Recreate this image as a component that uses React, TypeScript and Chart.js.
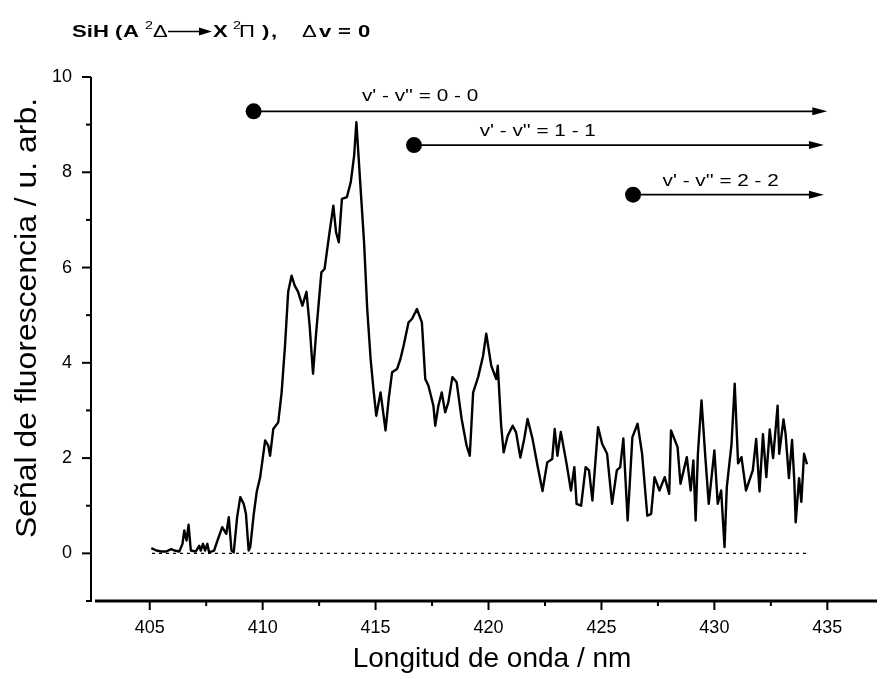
import React, { useEffect, useRef } from "react";
import { Chart, registerables } from "chart.js";

Chart.register(...registerables);

// ---- data ----
const wavelengthNm = [
  405.07, 405.29, 405.51, 405.73, 405.95, 406.09, 406.31, 406.45, 406.53, 406.63,
  406.72, 406.82, 407.04, 407.19, 407.26, 407.36, 407.45, 407.55, 407.63, 407.85,
  408.0, 408.21, 408.39, 408.5, 408.62, 408.72, 408.87, 409.01, 409.16, 409.26,
  409.38, 409.45, 409.6, 409.74, 409.89, 410.11, 410.25, 410.33, 410.47, 410.69,
  410.84, 410.99, 411.13, 411.28, 411.42, 411.57, 411.76, 411.94, 412.08, 412.23,
  412.37, 412.6, 412.74, 412.96, 413.13, 413.25, 413.37, 413.51, 413.73, 413.9,
  414.05, 414.15, 414.3, 414.49, 414.63, 414.78, 414.92, 415.03, 415.22, 415.44,
  415.58, 415.73, 415.95, 416.1, 416.24, 416.46, 416.61, 416.83, 417.05, 417.2,
  417.34, 417.56, 417.64, 417.78, 417.93, 418.08, 418.22, 418.4, 418.59, 418.81,
  419.03, 419.17, 419.32, 419.54, 419.76, 419.9, 420.12, 420.34, 420.41, 420.56,
  420.67, 420.85, 421.07, 421.22, 421.41, 421.58, 421.73, 421.95, 422.17, 422.39,
  422.6, 422.82, 422.93, 423.05, 423.2, 423.45, 423.65, 423.8, 423.9, 424.1,
  424.3, 424.45, 424.6, 424.85, 425.03, 425.25, 425.47, 425.68, 425.83, 425.97,
  426.16, 426.37, 426.6, 426.8, 427.03, 427.2, 427.35, 427.57, 427.8, 428.0,
  428.08, 428.37, 428.5, 428.78, 428.95, 429.07, 429.17, 429.27, 429.43, 429.6,
  429.75, 430.0, 430.15, 430.3, 430.45, 430.55, 430.76, 430.9, 431.05, 431.2,
  431.4, 431.7, 431.85, 432.0, 432.15, 432.3, 432.45, 432.6, 432.8, 432.87,
  433.06, 433.15, 433.3, 433.44, 433.54, 433.6, 433.75, 433.85, 433.97, 434.1,
];
const fluorescence = [
  0.11, 0.06, 0.04, 0.04, 0.09, 0.06, 0.04, 0.2, 0.48, 0.27,
  0.6, 0.06, 0.04, 0.16, 0.06, 0.2, 0.06, 0.2, 0.02, 0.06,
  0.27, 0.55, 0.41, 0.76, 0.06, 0.02, 0.76, 1.18, 1.04, 0.83,
  0.06, 0.13, 0.8, 1.3, 1.6, 2.37, 2.26, 2.05, 2.61, 2.75,
  3.38, 4.36, 5.49, 5.83, 5.62, 5.49, 5.2, 5.49, 4.78, 3.77,
  4.64, 5.9, 5.97, 6.74, 7.3, 6.74, 6.53, 7.44, 7.48, 7.79,
  8.35, 9.05, 7.93, 6.53, 5.13, 4.08, 3.38, 2.89, 3.38, 2.58,
  3.24, 3.8, 3.87, 4.08, 4.36, 4.85, 4.92, 5.13, 4.85, 3.66,
  3.52, 3.1, 2.68, 3.1, 3.38, 2.96, 3.17, 3.7, 3.59, 2.82,
  2.26, 2.05, 3.38, 3.7, 4.15, 4.61, 3.94, 3.66, 3.94, 2.68,
  2.12, 2.47, 2.68, 2.54, 2.01, 2.4, 2.82, 2.4, 1.84, 1.31,
  1.91, 1.98, 2.61, 2.05, 2.55, 1.9, 1.32, 1.81, 1.04, 1.0,
  1.81, 1.74, 1.11, 2.65, 2.3, 2.09, 1.04, 1.74, 1.81, 2.41,
  0.69, 2.44, 2.72, 2.09, 0.79, 0.83, 1.6, 1.32, 1.6, 1.25,
  2.58, 2.23, 1.46, 2.02, 1.32, 1.95, 0.69, 2.09, 3.21, 2.02,
  1.04, 2.16, 1.04, 1.32, 0.13, 1.39, 2.3, 3.56, 1.89, 2.02,
  1.32, 1.74, 2.4, 1.3, 2.5, 1.6, 2.6, 2.0, 3.1, 2.09,
  2.81, 2.52, 1.58, 2.38, 1.51, 0.65, 1.58, 1.08, 2.09, 1.87,
];
const baselineNm = [405.1, 434.1];
const baselineLevel = [0, 0];

const bandLabels = ["v' - v'' = 0 - 0", "v' - v'' = 1 - 1", "v' - v'' = 2 - 2"];
const bandOriginNm = [409.6, 416.7, 426.4];
const bandEndNm = [435.0, 434.85, 434.85];
const bandLevel = [9.28, 8.57, 7.53];
const bandLabelNm = [416.97, 422.18, 430.28];
const bandLabelLevel = [9.62, 8.89, 7.84];

const xMajorTicks = [405, 410, 415, 420, 425, 430, 435];
const xMinorTicks = [407.5, 412.5, 417.5, 422.5, 427.5, 432.5];
const yMajorTicks = [0, 2, 4, 6, 8, 10];
const yMinorTicks = [-1, 1, 3, 5, 7, 9];
const xRange = [402.4, 437.2];
const yRange = [-1, 10];

const xTitle = "Longitud de onda / nm";
const yTitle = "Señal de fluorescencia / u. arb.";

// ---- drawing helpers ----
const FAMILY = "Arial, 'Liberation Sans', Helvetica, sans-serif";

function drawText(
  ctx: CanvasRenderingContext2D,
  text: string,
  x: number,
  y: number,
  font: string,
  sx: number,
  align: CanvasTextAlign = "left"
) {
  ctx.save();
  ctx.font = font;
  ctx.textAlign = align;
  ctx.textBaseline = "alphabetic";
  ctx.translate(x, y);
  ctx.scale(sx, 1);
  ctx.fillText(text, 0, 0);
  ctx.restore();
}

const decorPlugin = {
  id: "decor",
  afterDatasetsDraw(chart: any) {
    const { ctx, scales } = chart;
    const xs = scales.x;
    const ys = scales.y;
    ctx.save();
    ctx.fillStyle = "#000";
    // arrow heads
    for (let i = 0; i < bandLevel.length; i++) {
      const px = xs.getPixelForValue(bandEndNm[i]);
      const py = ys.getPixelForValue(bandLevel[i]);
      ctx.beginPath();
      ctx.moveTo(px, py);
      ctx.lineTo(px - 15, py - 4);
      ctx.lineTo(px - 15, py + 4);
      ctx.closePath();
      ctx.fill();
    }
    // band labels
    for (let i = 0; i < bandLabels.length; i++) {
      const px = xs.getPixelForValue(bandLabelNm[i]);
      const py = ys.getPixelForValue(bandLabelLevel[i]);
      drawText(ctx, bandLabels[i], px, py + 6, `17px ${FAMILY}`, 1.22, "center");
    }
    ctx.restore();
  },
  afterDraw(chart: any) {
    const { ctx, chartArea: ca, scales } = chart;
    const xs = scales.x;
    const ys = scales.y;
    ctx.save();
    ctx.strokeStyle = "#000";
    ctx.fillStyle = "#000";
    ctx.lineCap = "butt";

    // axis lines
    ctx.lineWidth = 2;
    ctx.beginPath();
    ctx.moveTo(ca.left, ca.top);
    ctx.lineTo(ca.left, ca.bottom + 1);
    ctx.stroke();
    ctx.lineWidth = 3;
    ctx.beginPath();
    ctx.moveTo(ca.left + 4, ca.bottom);
    ctx.lineTo(ca.right, ca.bottom);
    ctx.stroke();

    // y ticks
    ctx.lineWidth = 2;
    for (const v of yMajorTicks) {
      const py = ys.getPixelForValue(v);
      ctx.beginPath();
      ctx.moveTo(ca.left - 9, py);
      ctx.lineTo(ca.left, py);
      ctx.stroke();
    }
    for (const v of yMinorTicks) {
      const py = ys.getPixelForValue(v);
      ctx.beginPath();
      ctx.moveTo(ca.left - 5, py);
      ctx.lineTo(ca.left, py);
      ctx.stroke();
    }
    // x ticks
    for (const v of xMajorTicks) {
      const px = xs.getPixelForValue(v);
      ctx.beginPath();
      ctx.moveTo(px, ca.bottom);
      ctx.lineTo(px, ca.bottom + 9);
      ctx.stroke();
    }
    for (const v of xMinorTicks) {
      const px = xs.getPixelForValue(v);
      ctx.beginPath();
      ctx.moveTo(px, ca.bottom);
      ctx.lineTo(px, ca.bottom + 5);
      ctx.stroke();
    }

    // axis titles
    drawText(ctx, xTitle, 492, 667, `28px ${FAMILY}`, 1.0, "center");
    ctx.save();
    ctx.translate(36, 318);
    ctx.rotate(-Math.PI / 2);
    ctx.font = `30px ${FAMILY}`;
    const w = ctx.measureText(yTitle).width;
    ctx.scale(440 / w, 1);
    ctx.textAlign = "center";
    ctx.textBaseline = "alphabetic";
    ctx.fillText(yTitle, 0, 0);
    ctx.restore();

    // chart title: SiH ( A 2Δ —► X 2Π ),  Δv=0
    const B = `bold 17px ${FAMILY}`;
    const R = `17px ${FAMILY}`;
    const S = `11px ${FAMILY}`;
    const sx = 1.3;
    const base = 37;
    drawText(ctx, "SiH", 72, base, B, sx);
    drawText(ctx, "(", 115, base, B, sx);
    drawText(ctx, "A", 123, base, B, sx);
    drawText(ctx, "2", 145, 29, S, sx);
    drawText(ctx, "Δ", 153, base, R, sx);
    ctx.lineWidth = 1.5;
    ctx.beginPath();
    ctx.moveTo(168, 31.5);
    ctx.lineTo(200, 31.5);
    ctx.stroke();
    ctx.beginPath();
    ctx.moveTo(212, 31.5);
    ctx.lineTo(199, 27.5);
    ctx.lineTo(199, 35.5);
    ctx.closePath();
    ctx.fill();
    drawText(ctx, "X", 213, base, B, sx);
    drawText(ctx, "2", 233, 29, S, sx);
    drawText(ctx, "Π", 239, base, R, sx);
    drawText(ctx, ")", 262, base, B, sx);
    drawText(ctx, ",", 271, base, B, sx);
    drawText(ctx, "Δ", 302, base, R, sx);
    drawText(ctx, "v", 319, base, B, sx);
    drawText(ctx, "=", 338, base, B, sx);
    drawText(ctx, "0", 358, base, B, sx);

    ctx.restore();
  },
};

export default function App() {
  const canvasRef = useRef<HTMLCanvasElement | null>(null);

  useEffect(() => {
    const canvas = canvasRef.current;
    if (!canvas) return;

    const bandDatasets = bandLevel.map((lvl, i) => ({
      label: bandLabels[i],
      data: [
        { x: bandOriginNm[i], y: lvl },
        { x: bandEndNm[i] - 0.4, y: lvl },
      ],
      borderColor: "#000",
      borderWidth: 1.8,
      pointRadius: [8, 0],
      pointBackgroundColor: "#000",
      pointBorderColor: "#000",
      pointBorderWidth: 0,
      pointHoverRadius: 0,
      tension: 0,
    }));

    const chart = new Chart(canvas, {
      type: "line",
      data: {
        datasets: [
          {
            label: "SiH",
            data: wavelengthNm.map((w, i) => ({ x: w, y: fluorescence[i] })),
            borderColor: "#000",
            borderWidth: 2.4,
            pointRadius: 0,
            tension: 0,
            borderJoinStyle: "round",
          },
          {
            label: "baseline",
            data: baselineNm.map((w, i) => ({ x: w, y: baselineLevel[i] })),
            borderColor: "#000",
            borderWidth: 1.4,
            borderDash: [3, 4],
            pointRadius: 0,
          },
          ...bandDatasets,
        ] as any,
      },
      options: {
        responsive: false,
        animation: false,
        layout: { padding: { top: 77, left: 0, right: 0, bottom: 0 } },
        plugins: {
          legend: { display: false },
          tooltip: { enabled: false },
          title: { display: false },
        },
        scales: {
          x: {
            type: "linear",
            min: xRange[0],
            max: xRange[1],
            grid: { display: false, drawTicks: false },
            border: { display: false },
            ticks: {
              font: { family: FAMILY, size: 18 },
              color: "#000",
              padding: 16,
              maxRotation: 0,
              autoSkip: false,
            },
            afterBuildTicks: (s: any) => {
              s.ticks = xMajorTicks.map((v) => ({ value: v }));
            },
            afterFit: (s: any) => {
              s.height = 74;
            },
          },
          y: {
            type: "linear",
            min: yRange[0],
            max: yRange[1],
            grid: { display: false, drawTicks: false },
            border: { display: false },
            ticks: {
              font: { family: FAMILY, size: 18 },
              color: "#000",
              padding: 19,
              autoSkip: false,
            },
            afterBuildTicks: (s: any) => {
              s.ticks = yMajorTicks.map((v) => ({ value: v }));
            },
            afterFit: (s: any) => {
              s.width = 91;
            },
          },
        },
      } as any,
      plugins: [decorPlugin],
    });

    return () => chart.destroy();
  }, []);

  return (
    <div style={{ position: "absolute", left: 0, top: 0, width: 885, height: 675, background: "#fff" }}>
      <canvas ref={canvasRef} width={885} height={675} />
    </div>
  );
}
